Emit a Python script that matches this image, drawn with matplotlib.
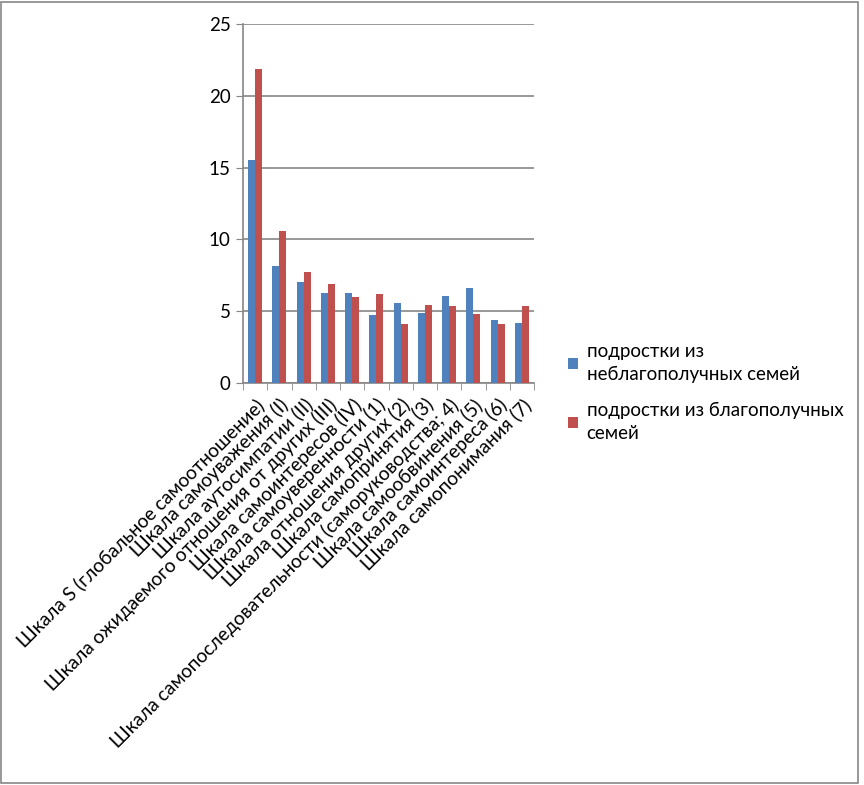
import numpy as np
import matplotlib
matplotlib.use("Agg")
from matplotlib import pyplot as plt
from matplotlib.patches import Rectangle

categories = [
    "Шкала S (глобальное самоотношение)",
    "Шкала самоуважения (I)",
    "Шкала аутосимпатии (II)",
    "Шкала ожидаемого отношения от других (III)",
    "Шкала самоинтересов (IV)",
    "Шкала самоуверенности (1)",
    "Шкала отношения других (2)",
    "Шкала самопринятия (3)",
    "Шкала самопоследовательности (саморуководства; 4)",
    "Шкала самообвинения (5)",
    "Шкала самоинтереса (6)",
    "Шкала самопонимания (7)",
]
troubled = [15.55, 8.17, 7.05, 6.29, 6.29, 4.76, 5.59, 4.9, 6.08, 6.64, 4.41, 4.2]
stable = [21.9, 10.6, 7.75, 6.92, 6.01, 6.22, 4.13, 5.45, 5.38, 4.83, 4.13, 5.38]
series_names = ["подростки из\nнеблагополучных семей",
                "подростки из благополучных\nсемей"]

plt.rcParams['font.family'] = ['Lato', 'DejaVu Sans']
grid_color = "#868686"

fig = plt.figure(figsize=(8.64, 7.85), dpi=100)
ax = fig.add_axes([243/864, 1 - 383/785, 291/864, 359/785])

x = np.arange(len(categories))
w = 0.29
ax.bar(x - w/2, troubled, w, color="#4F81BD", label=series_names[0], zorder=3)
ax.bar(x + w/2, stable, w, color="#C0504D", label=series_names[1], zorder=3)

ax.set_xlim(-0.5, len(categories) - 0.5)
ax.set_ylim(0, 25)
ax.set_yticks(range(0, 26, 5))
ax.yaxis.grid(True, color=grid_color, linewidth=1.2, zorder=0)

for s in ["top", "right"]:
    ax.spines[s].set_visible(False)
for s in ["left", "bottom"]:
    ax.spines[s].set_color(grid_color)
    ax.spines[s].set_linewidth(1.2)

ax.tick_params(axis="y", length=5, color=grid_color, labelsize=13.5, pad=4)
ax.set_xticks(np.arange(-0.5, len(categories), 1.0), minor=True)
ax.tick_params(axis="x", which="minor", length=5, color=grid_color)
ax.tick_params(axis="x", which="major", length=0, pad=9)
ax.set_xticks(x)
ax.set_xticklabels(categories, rotation=45, ha="right", rotation_mode="anchor",
                   fontsize=13.8)

leg = ax.legend(loc="upper left", bbox_to_anchor=(551/864, 1 - 326/785),
                bbox_transform=fig.transFigure, frameon=False, fontsize=13.5,
                handlelength=0.55, handleheight=0.55, handletextpad=0.45,
                labelspacing=1.0)
for t in leg.get_texts():
    t.set_linespacing(1.45)

fig.patches.append(Rectangle((1/864, 2/785), 857/864, 781/785,
                             transform=fig.transFigure, fill=False,
                             edgecolor=grid_color, linewidth=1.2))

fig.savefig("out.png", dpi=100)
